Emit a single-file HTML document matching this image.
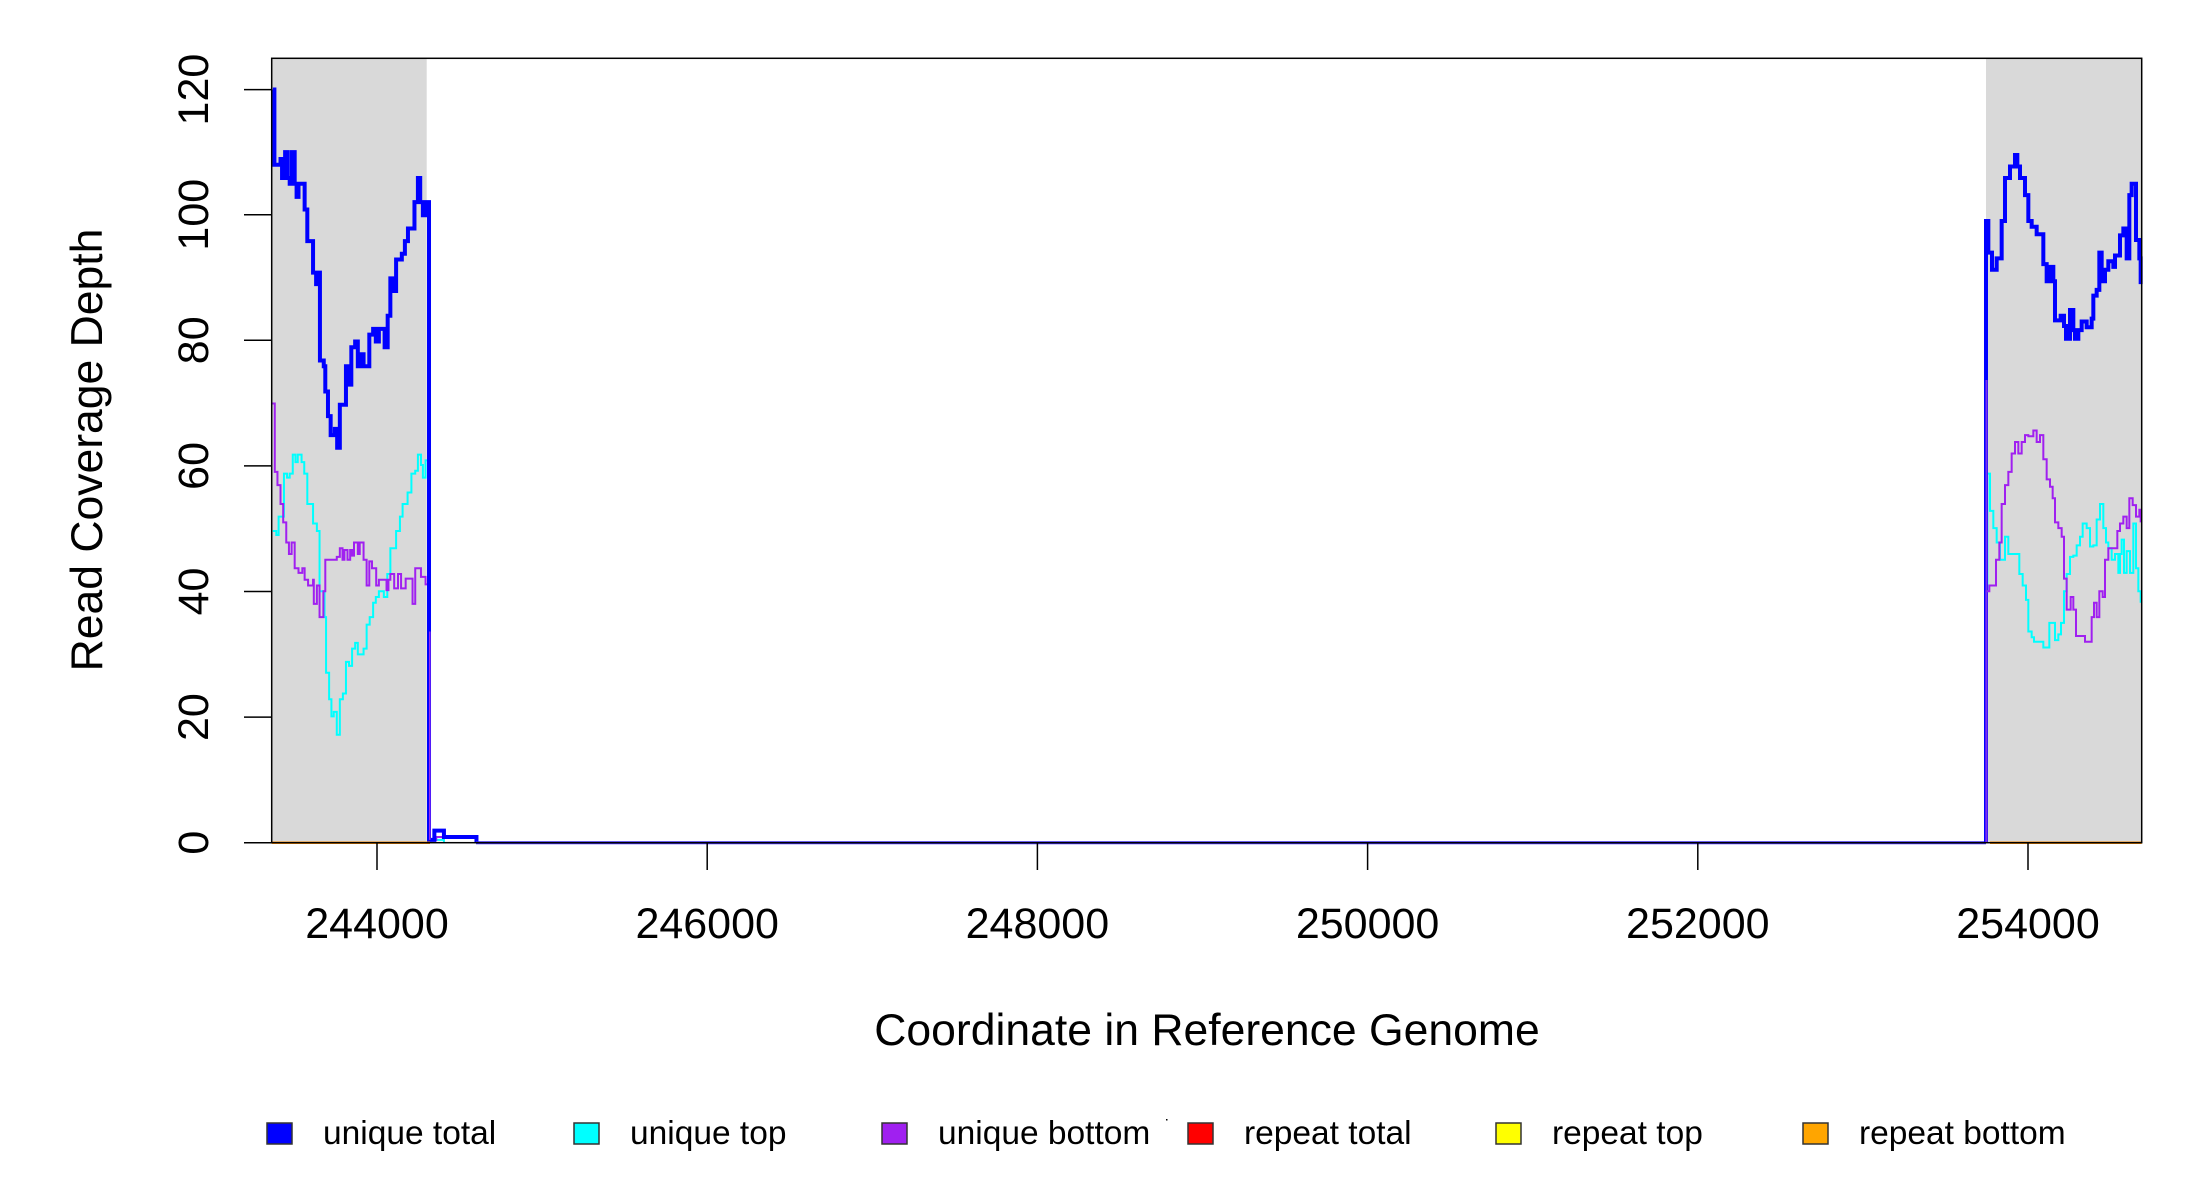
<!DOCTYPE html>
<html><head><meta charset="utf-8"><style>html,body{margin:0;padding:0;background:#fff}svg{display:block}text{font-family:"Liberation Sans",Arial,sans-serif;fill:#000}</style></head>
<body>
<svg width="2200" height="1200" viewBox="0 0 2200 1200" xmlns="http://www.w3.org/2000/svg">
<rect x="271.7" y="58.3" width="155" height="784.4" fill="#d9d9d9"/>
<rect x="1986" y="58.3" width="155.7" height="784.4" fill="#d9d9d9"/>
<!-- left region, zoom1 coords -->
<g transform="scale(0.38270,0.57405)" fill="none" stroke-linejoin="miter">
<polyline vector-effect="non-scaling-stroke" stroke="#00ffff" stroke-width="2" points="713,925 722,925 722,932 728,932 728,900 738,900 738,900 742,900 742,825 750,825 750,832 757,832 757,825 765,825 765,792 772,792 772,805 778,805 778,792 788,792 788,805 795,805 795,825 803,825 803,878 818,878 818,912 828,912 828,925 835,925 835,1030 848,1030 848,1075 852,1075 852,1172 860,1172 860,1218 866,1218 866,1248 872,1248 872,1240 880,1240 880,1280 888,1280 888,1218 896,1218 896,1208 904,1208 904,1153 912,1153 912,1160 920,1160 920,1130 928,1130 928,1120 935,1120 935,1140 950,1140 950,1130 958,1130 958,1088 966,1088 966,1075 975,1075 975,1050 982,1050 982,1040 990,1040 990,1030 1003,1030 1003,1040 1012,1040 1012,1000 1020,1000 1020,955 1035,955 1035,925 1045,925 1045,900 1052,900 1052,878 1065,878 1065,858 1075,858 1075,825 1085,825 1085,820 1092,820 1092,792 1100,792 1100,810 1105,810 1105,832 1112,832 1112,802 1120,802 1120,1463 1160,1463 1160,1468"/>
<polyline vector-effect="non-scaling-stroke" stroke="#a020f0" stroke-width="2" points="712,703 718,703 718,822 725,822 725,845 733,845 733,878 740,878 740,910 748,910 748,945 755,945 755,965 762,965 762,945 770,945 770,990 780,990 780,998 790,998 790,990 796,990 796,1010 805,1010 805,1020 818,1020 818,1010 820,1010 820,1052 828,1052 828,1020 835,1020 835,1075 845,1075 845,1030 850,1030 850,975 880,975 880,970 888,970 888,955 895,955 895,975 900,975 900,958 908,958 908,975 915,975 915,958 920,958 920,968 925,968 925,945 935,945 935,965 940,965 940,945 950,945 950,975 958,975 958,1020 965,1020 965,978 972,978 972,990 983,990 983,1020 990,1020 990,1010 1010,1010 1010,1028 1015,1028 1015,1010 1020,1010 1020,1000 1030,1000 1030,1025 1040,1025 1040,1000 1048,1000 1048,1025 1060,1025 1060,1008 1078,1008 1078,1052 1085,1052 1085,990 1100,990 1100,1005 1112,1005 1112,1018 1122,1018 1122,1463 1140,1463 1140,1458 1245,1458 1245,1468"/>
<polyline vector-effect="non-scaling-stroke" stroke="#0000ff" stroke-width="4" points="713,156 717,156 717,287 733,287 733,277 737,277 737,310 745,310 745,265 752,265 752,310 757,310 757,320 763,320 763,265 770,265 770,320 775,320 775,343 780,343 780,320 796,320 796,365 803,365 803,420 818,420 818,475 826,475 826,495 833,495 833,475 836,475 836,628 846,628 846,638 850,638 850,682 857,682 857,725 864,725 864,758 875,758 875,747 881,747 881,780 888,780 888,705 904,705 904,638 912,638 912,670 918,670 918,605 928,605 928,595 935,595 935,638 942,638 942,617 950,617 950,638 965,638 965,583 975,583 975,573 982,573 982,595 990,595 990,573 1005,573 1005,605 1013,605 1013,550 1020,550 1020,485 1028,485 1028,507 1035,507 1035,452 1050,452 1050,442 1058,442 1058,420 1066,420 1066,398 1083,398 1083,352 1092,352 1092,310 1098,310 1098,352 1105,352 1105,375 1112,375 1112,352 1121,352 1121,1463 1135,1463 1135,1447 1160,1447 1160,1458 1245,1458 1245,1468"/>
<polyline vector-effect="non-scaling-stroke" stroke="#9a30f0" stroke-width="1.5" points="1123,1100 1123,1463"/>
</g>
<line x1="476" y1="842.7" x2="1986" y2="842.7" stroke="#3a2cf6" stroke-width="3"/>
<line x1="476" y1="842.7" x2="1986" y2="842.7" stroke="#8a3cf0" stroke-width="1.5"/>
<!-- right region, zoom2 coords -->
<g transform="translate(1900,0) scale(0.33333,0.57405)" fill="none">
<polyline vector-effect="non-scaling-stroke" stroke="#00ffff" stroke-width="2" points="260,1468 260,1030 262,1030 262,825 270,825 270,890 280,890 280,920 290,920 290,945 300,945 300,975 315,975 315,935 325,935 325,965 335,965 358,965 358,1000 368,1000 368,1020 378,1020 378,1045 385,1045 385,1100 395,1100 395,1110 402,1110 402,1118 430,1118 430,1128 448,1128 448,1085 465,1085 465,1115 475,1115 475,1105 483,1105 483,1085 492,1085 492,1030 500,1030 500,1000 510,1000 510,970 520,970 520,968 530,968 530,950 540,950 540,935 548,935 548,912 560,912 560,920 570,920 570,952 580,952 580,950 590,950 590,905 600,905 600,878 610,878 610,920 618,920 618,945 625,945 625,955 635,955 635,975 645,975 645,965 655,965 655,998 660,998 660,965 665,965 665,940 672,940 672,998 680,998 680,960 690,960 690,998 700,998 700,912 708,912 708,990 715,990 715,1030 722,1030 722,1050"/>
<polyline vector-effect="non-scaling-stroke" stroke="#0000ff" stroke-width="4" points="258,1468 258,385 265,385 265,440 276,440 276,470 290,470 290,450 305,450 305,385 315,385 315,310 330,310 330,290 345,290 345,270 352,270 352,290 360,290 360,310 375,310 375,340 385,340 385,385 395,385 395,395 410,395 410,408 425,408 430,408 430,460 440,460 440,490 450,490 450,465 460,465 460,490 465,490 465,558 482,558 482,550 492,550 492,568 498,568 498,590 510,590 510,540 520,540 520,575 525,575 525,590 535,590 535,575 545,575 545,560 560,560 560,570 575,570 575,555 580,555 580,515 590,515 590,505 598,505 598,440 605,440 605,490 615,490 615,470 625,470 625,455 640,455 640,465 645,465 645,445 660,445 660,410 670,410 670,398 680,398 680,450 688,450 688,340 695,340 695,320 708,320 708,418 718,418 718,450 722,450 722,495"/>
<polyline vector-effect="non-scaling-stroke" stroke="#a020f0" stroke-width="2" points="259,1468 259,1030 268,1030 268,1020 288,1020 288,975 298,975 298,945 305,945 305,878 315,878 315,845 325,845 325,822 335,822 335,790 345,790 345,770 355,770 355,790 365,790 365,770 375,770 375,758 385,758 385,760 400,760 400,750 410,750 410,770 420,770 420,758 430,758 430,800 440,800 440,835 450,835 450,848 458,848 458,868 465,868 465,910 475,910 475,920 485,920 485,935 492,935 492,1008 500,1008 500,1062 512,1062 512,1040 520,1040 520,1062 528,1062 528,1108 555,1108 555,1118 575,1118 575,1075 582,1075 582,1050 590,1050 590,1075 598,1075 598,1030 608,1030 608,1040 615,1040 615,975 625,975 625,955 640,955 640,955 652,955 652,925 660,925 660,912 670,912 670,900 680,900 680,920 688,920 688,868 698,868 698,880 708,880 708,900 718,900 718,888 722,888 722,910"/>
</g>
<line x1="1986.5" y1="380" x2="1986.5" y2="842.7" stroke="#7a30f0" stroke-width="2"/>
<line x1="271.7" y1="842.7" x2="430" y2="842.7" stroke="#ff8c00" stroke-width="2.5"/>
<line x1="1990" y1="842.7" x2="2141.7" y2="842.7" stroke="#ff8c00" stroke-width="2.5"/>
<rect x="271.7" y="58.3" width="1870" height="784.4" fill="none" stroke="#000" stroke-width="1.5"/>
<g stroke="#000" stroke-width="1.5">
<line x1="244" y1="842.7" x2="271.7" y2="842.7"/><line x1="244" y1="717.1" x2="271.7" y2="717.1"/><line x1="244" y1="591.5" x2="271.7" y2="591.5"/><line x1="244" y1="465.9" x2="271.7" y2="465.9"/><line x1="244" y1="340.3" x2="271.7" y2="340.3"/><line x1="244" y1="214.7" x2="271.7" y2="214.7"/><line x1="244" y1="89.6" x2="271.7" y2="89.6"/>
<line x1="377" y1="842.7" x2="377" y2="870"/><line x1="707.2" y1="842.7" x2="707.2" y2="870"/><line x1="1037.4" y1="842.7" x2="1037.4" y2="870"/><line x1="1367.6" y1="842.7" x2="1367.6" y2="870"/><line x1="1697.8" y1="842.7" x2="1697.8" y2="870"/><line x1="2028" y1="842.7" x2="2028" y2="870"/>
</g>
<g font-size="43" text-anchor="middle">
<text transform="translate(208,842.7) rotate(-90)">0</text>
<text transform="translate(208,717.1) rotate(-90)">20</text>
<text transform="translate(208,591.5) rotate(-90)">40</text>
<text transform="translate(208,465.9) rotate(-90)">60</text>
<text transform="translate(208,340.3) rotate(-90)">80</text>
<text transform="translate(208,214.7) rotate(-90)">100</text>
<text transform="translate(208,89.6) rotate(-90)">120</text>
<text x="377" y="938">244000</text><text x="707.2" y="938">246000</text><text x="1037.4" y="938">248000</text><text x="1367.6" y="938">250000</text><text x="1697.8" y="938">252000</text><text x="2028" y="938">254000</text>
<text x="1207" y="1045" font-size="44.5">Coordinate in Reference Genome</text>
<text transform="translate(102,450) rotate(-90)" font-size="44.5">Read Coverage Depth</text>
</g>
<g stroke="#333" stroke-width="1.5">
<rect x="267" y="1123" width="25" height="21" fill="#0000ff"/>
<rect x="574" y="1123" width="25" height="21" fill="#00ffff"/>
<rect x="882" y="1123" width="25" height="21" fill="#a020f0"/>
<rect x="1188" y="1123" width="25" height="21" fill="#ff0000"/>
<rect x="1496" y="1123" width="25" height="21" fill="#ffff00"/>
<rect x="1803" y="1123" width="25" height="21" fill="#ffa500"/>
</g>
<g font-size="33.5">
<text x="323" y="1144">unique total</text>
<text x="630" y="1144">unique top</text>
<text x="938" y="1144">unique bottom</text>
<text x="1244" y="1144">repeat total</text>
<text x="1552" y="1144">repeat top</text>
<text x="1859" y="1144">repeat bottom</text>
</g>
<rect x="1166" y="1119" width="1.5" height="1.5" fill="#000"/>
</svg>
</body></html>
